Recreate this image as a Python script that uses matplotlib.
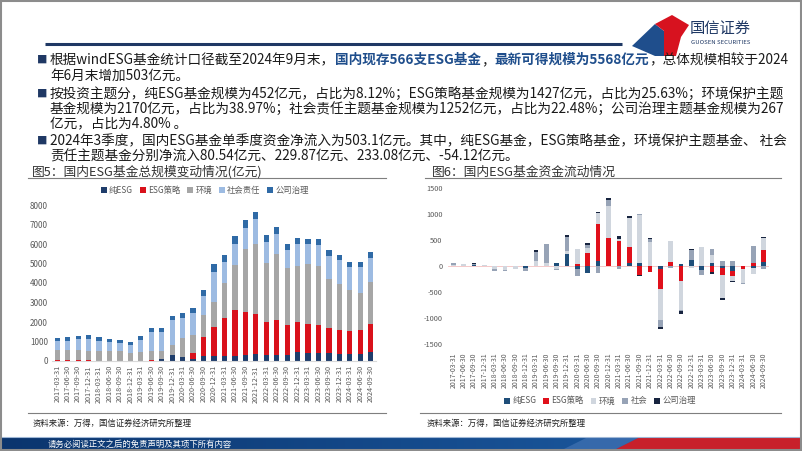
import matplotlib
matplotlib.use("Agg")
import matplotlib.pyplot as plt
import numpy as np
from matplotlib.patches import Polygon, Rectangle

plt.rcParams['font.family'] = ['Noto Sans CJK SC', 'DejaVu Sans']
plt.rcParams['axes.unicode_minus'] = False

# ---------------- data ----------------
dates = ["2017-03-31", "2017-06-30", "2017-09-30", "2017-12-31",
         "2018-03-31", "2018-06-30", "2018-09-30", "2018-12-31",
         "2019-03-31", "2019-06-30", "2019-09-30", "2019-12-31",
         "2020-03-31", "2020-06-30", "2020-09-30", "2020-12-31",
         "2021-03-31", "2021-06-30", "2021-09-30", "2021-12-31",
         "2022-03-31", "2022-06-30", "2022-09-30", "2022-12-31",
         "2023-03-31", "2023-06-30", "2023-09-30", "2023-12-31",
         "2024-03-31", "2024-06-30", "2024-09-30"]

# Fig 5: scale (亿元)
scale_names = ["纯ESG", "ESG策略", "环境", "社会责任", "公司治理"]
scale_pure = [5, 5, 5, 5, 5, 5, 5, 5, 5, 20, 80, 300, 220, 85, 240, 240, 240, 260, 325, 340,
              290, 290, 325, 460, 410, 430, 395, 360, 340, 371, 452]
scale_strat = [60, 50, 50, 30, 20, 10, 10, 5, 10, 10, 10, 0, 0, 345, 990, 1520, 1980, 2340, 2200, 2090,
               1710, 1795, 1535, 1540, 1505, 1420, 1295, 1230, 1200, 1197, 1427]
scale_env = [480, 500, 520, 500, 500, 500, 490, 420, 470, 470, 420, 520, 940, 900, 1110, 1280, 1800, 2300, 3210, 3590,
             3025, 3415, 2890, 2870, 3040, 3020, 2500, 2340, 2080, 1937, 2170]
scale_soc = [460, 480, 540, 590, 520, 450, 400, 380, 600, 980, 960, 1280, 1060, 1130, 980, 1540, 1040, 1080, 1100, 1260,
             1075, 1000, 960, 1110, 1030, 1080, 1195, 1230, 1200, 1306, 1252]
scale_gov = [180, 180, 190, 200, 190, 180, 180, 180, 200, 220, 220, 190, 240, 275, 300, 380, 380, 410, 380, 360,
             345, 370, 270, 310, 290, 290, 290, 276, 257, 254, 267]

# Fig 6: flows (亿元)
flow_names = ["纯ESG", "ESG策略", "环境", "社会", "公司治理"]
flow_pure = [0, 0, 10, 0, 0, 0, 0, -40, 0, 0, 50, 230, -50, -140, 100, 0, 0, 50, 55, 0,
             -50, 0, 45, 120, -85, 50, -40, -100, 0, -30, 80.54]
flow_strat = [0, 0, 0, 0, 0, 0, 0, 0, 0, 0, 0, 0, 40, 250, 710, 540, 475, 305, -165, -110,
              -400, 75, -295, 0, 0, -115, -130, -95, -50, 60, 229.87]
flow_env = [20, 30, 0, 15, -60, -70, -50, 0, 90, 50, -50, 60, 290, 100, 205, 610, 45, 570, 920, 460,
            -580, 400, -545, -30, 355, 160, -450, -85, -275, -120, 233.08]
flow_soc = [30, 10, 30, 0, -30, -30, -15, -50, 175, 380, -25, 270, -140, 50, -135, 110, -60, 0, 20, 60,
            -145, -40, -30, 180, -80, 115, 100, 100, -25, 330, -54.12]
flow_gov = [10, 0, 20, 0, 0, 0, 0, 0, 45, 0, 15, 40, 0, 40, 20, 50, 50, 30, -20, 25,
            -40, 0, -40, 20, 0, -30, -35, -30, 0, 0, 14]

left_yticks = [0, 1000, 2000, 3000, 4000, 5000, 6000, 7000, 8000]
right_yticks = [-1500, -1000, -500, 0, 500, 1000, 1500]

# ---------------- figure ----------------
W, H = 802, 451
fig = plt.figure(figsize=(W / 100, H / 100), dpi=100)

bg = fig.add_axes([0, 0, 1, 1])
bg.set_xlim(0, W)
bg.set_ylim(H, 0)
bg.axis('off')

NAVY = '#1f3864'
TXT = '#1a1a1a'

# border
bg.add_patch(Rectangle((0.8, 0.8), W - 1.6, H - 1.6, fill=False, ec='#8c8c8c', lw=1.5, zorder=10))

# header line
bg.plot([45, 622], [44, 44], color=NAVY, lw=2.2, solid_capstyle='butt')

# logo
bg.add_patch(Polygon([[632, 46], [655, 24], [664, 31], [664, 56], [655, 56]], closed=True,
                     fc='#1f4e8c', ec='none'))
bg.add_patch(Polygon([[655, 24], [672, 15], [689, 25], [681, 37], [676, 56], [664, 56], [664, 31]],
                     closed=True, fc='#d7121f', ec='none'))
bg.text(690, 28, "国信证券", fontsize=11, color=NAVY, ha='left', va='center')
bg.text(691, 43, "GUOSEN SECURITIES", fontsize=4.3, color=NAVY, ha='left', va='center')

renderer = fig.canvas.get_renderer()


def measure(parts, fs):
    total = 0
    for s, color, weight in parts:
        t = bg.text(0, 0, s, fontweight=weight, fontsize=fs)
        total += t.get_window_extent(renderer).width
        t.remove()
    return total


def runs(x, y, parts, fs):
    for s, color, weight in parts:
        t = bg.text(x, y, s, color=color, fontweight=weight, fontsize=fs, ha='left', va='center')
        x += t.get_window_extent(renderer).width


def fit_fs(parts, width, fs0=10):
    return fs0 * width / measure(parts, fs0)


HL = '#1f4e8c'
X0, X1 = 50, 789

p1a = [("根据windESG基金统计口径截至2024年9月末，", TXT, 'normal'),
       ("国内现存566支ESG基金", HL, 'bold'),
       ("，", TXT, 'normal'),
       ("最新可得规模为5568亿元", HL, 'bold'),
       ("，总体规模相较于2024", TXT, 'normal')]
p1b = [("年6月末增加503亿元。", TXT, 'normal')]
p2a = [("按投资主题分，纯ESG基金规模为452亿元，占比为8.12%；ESG策略基金规模为1427亿元，占比为25.63%；环境保护主题", TXT, 'normal')]
p2b = [("基金规模为2170亿元，占比为38.97%；社会责任主题基金规模为1252亿元，占比为22.48%；公司治理主题基金规模为267", TXT, 'normal')]
p2c = [("亿元，占比为4.80% 。", TXT, 'normal')]
p3a = [("2024年3季度，国内ESG基金单季度资金净流入为503.1亿元。其中，纯ESG基金，ESG策略基金，环境保护主题基金、 社会", TXT, 'normal')]
p3b = [("责任主题基金分别净流入80.54亿元、229.87亿元、233.08亿元、-54.12亿元。", TXT, 'normal')]

fs1 = fit_fs(p1a, X1 - X0)
fs2 = min(fit_fs(p2a, X1 - 3 - X0), fit_fs(p2b, X1 - X0))
fs3 = fit_fs(p3a, X1 - 2 - X0)

bullet_rows = [60, 94, 141]
for yb in bullet_rows:
    bg.text(37, yb, "■", fontsize=7.5, color=NAVY, ha='left', va='center')

runs(X0, 60, p1a, fs1)
runs(X0, 76, p1b, fs1)
runs(X0, 94, p2a, fs2)
runs(X0, 109, p2b, fs2)
runs(X0, 124, p2c, fs2)
runs(X0, 141, p3a, fs3)
runs(X0, 156, p3b, fs3)

# chart titles and rules
bg.text(32, 172, "图5：国内ESG基金总规模变动情况(亿元)", fontsize=9.2, color='#333333', ha='left', va='center')
bg.text(432, 172, "图6：国内ESG基金资金流动情况", fontsize=9.2, color='#333333', ha='left', va='center')
bg.plot([28, 386], [178, 178], color='#7f7f7f', lw=0.8)
bg.plot([425, 781], [178, 178], color='#7f7f7f', lw=0.8)
bg.plot([28, 386], [413, 413], color='#7f7f7f', lw=0.8)
bg.plot([420, 781], [413, 413], color='#7f7f7f', lw=0.8)
bg.text(33, 423, "资料来源：万得，国信证券经济研究所整理", fontsize=6, color='#222222', ha='left', va='center')
bg.text(427, 423, "资料来源：万得，国信证券经济研究所整理", fontsize=6, color='#222222', ha='left', va='center')

# footer band with gradient
grad = np.linspace(0, 1, 256)
c0 = np.array([0x0b, 0x35, 0x6e]) / 255
c1 = np.array([0x1e, 0x5f, 0xa8]) / 255
img = (c0[None, :] * (1 - grad[:, None]) + c1[None, :] * grad[:, None])[None, :, :]
bg.imshow(img, extent=[0, W, H, 437], aspect='auto', zorder=1)
bg.add_patch(Polygon([[612, H], [640, 437], [W, 437], [W, H]], closed=True, fc='#c8202b', ec='none', zorder=2))
bg.add_patch(Polygon([[560, H], [588, 437], [640, 437], [612, H]], closed=True, fc='#4a78b8', ec='none', zorder=2, alpha=0.6))
bg.plot([0, W], [436.5, 436.5], color='#9fb7d6', lw=0.8, zorder=3)
bg.set_xlim(0, W)
bg.set_ylim(H, 0)
bg.text(48, 444, "请务必阅读正文之后的免责声明及其项下所有内容", fontsize=6, color='white', ha='left', va='center', zorder=4)


def px_axes(x0, x1, ytop, ybot):
    return fig.add_axes([x0 / W, 1 - ybot / H, (x1 - x0) / W, (ybot - ytop) / H])


x = np.arange(len(dates))

# ---------------- Fig 5 ----------------
ax1 = px_axes(52.1, 375.9, 205, 361)
cols1 = ['#1f3d6b', '#d9111b', '#a6a6a6', '#9dbbe2', '#2f6aa6']
bottom = np.zeros(len(dates))
for name, vals, c in zip(scale_names, [scale_pure, scale_strat, scale_env, scale_soc, scale_gov], cols1):
    v = np.array(vals, dtype=float)
    ax1.bar(x, v, bottom=bottom, width=0.5, color=c, label=name, linewidth=0)
    bottom += v
ax1.set_xlim(-0.5, len(dates) - 0.5)
ax1.set_ylim(0, 8000)
ax1.set_yticks(left_yticks)
ax1.set_yticklabels([str(t) for t in left_yticks], fontsize=5.8, color='#595959')
ax1.set_xticks(x)
ax1.set_xticklabels(dates, rotation=90, fontsize=5.2, color='#595959')
ax1.tick_params(length=0, pad=3)
for s in ['top', 'right', 'left']:
    ax1.spines[s].set_visible(False)
ax1.spines['bottom'].set_color('#d9d9d9')
ax1.spines['bottom'].set_linewidth(0.8)
ax1.set_facecolor('none')
fig.legend(*ax1.get_legend_handles_labels(), loc='center', bbox_to_anchor=(205 / W, 1 - 190 / H),
           ncol=5, frameon=False, fontsize=6, handlelength=0.7, handleheight=0.7,
           handletextpad=0.3, columnspacing=0.8, labelcolor='#595959')

# ---------------- Fig 6 ----------------
ax2 = px_axes(448.1, 768.9, 187.7, 344.3)
cols2 = ['#1f4e79', '#e0101b', '#d0d6de', '#97a3b6', '#17243f']
pos = np.zeros(len(dates))
neg = np.zeros(len(dates))
for name, vals, c in zip(flow_names, [flow_pure, flow_strat, flow_env, flow_soc, flow_gov], cols2):
    v = np.array(vals, dtype=float)
    b = np.where(v >= 0, pos, neg)
    ax2.bar(x, v, bottom=b, width=0.45, color=c, label=name, linewidth=0)
    pos += np.where(v >= 0, v, 0)
    neg += np.where(v < 0, v, 0)
ax2.axhline(0, color='#f4c0c0', lw=0.6, zorder=0)
ax2.set_xlim(-0.5, len(dates) - 0.5)
ax2.set_ylim(-1500, 1500)
ax2.set_yticks(right_yticks)
ax2.set_yticklabels([str(t) for t in right_yticks], fontsize=5.3, color='#595959')
ax2.set_xticks(x)
ax2.set_xticklabels(dates, rotation=90, fontsize=5.0, color='#595959')
ax2.tick_params(axis='y', length=0, pad=4)
ax2.tick_params(axis='x', length=0, pad=6)
for s in ['top', 'right', 'left', 'bottom']:
    ax2.spines[s].set_visible(False)
ax2.set_facecolor('none')
fig.legend(*ax2.get_legend_handles_labels(), loc='center', bbox_to_anchor=(600 / W, 1 - 401 / H),
           ncol=5, frameon=False, fontsize=6, handlelength=0.7, handleheight=0.7,
           handletextpad=0.3, columnspacing=0.8, labelcolor='#595959')

fig.savefig("out.png", dpi=100)
